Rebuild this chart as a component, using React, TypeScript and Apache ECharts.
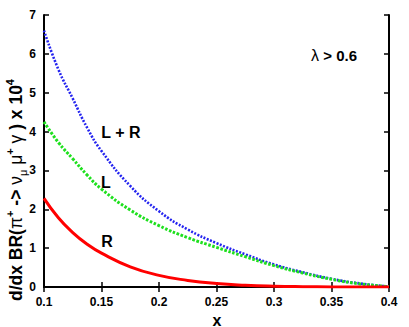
import React, { useEffect, useRef } from "react";
import * as echarts from "echarts";

const xs = [0.1, 0.1125, 0.125, 0.1375, 0.15, 0.175, 0.2, 0.225, 0.25, 0.275, 0.3, 0.325, 0.35, 0.375, 0.4];
const lrValues = [6.6, 5.6, 4.85, 4.1, 3.5, 2.6, 1.95, 1.48, 1.13, 0.84, 0.58, 0.38, 0.21, 0.09, 0.01];
const lValues = [4.25, 3.72, 3.3, 2.88, 2.52, 1.98, 1.58, 1.27, 1.02, 0.78, 0.55, 0.36, 0.2, 0.08, 0.01];
const rValues = [2.28, 1.78, 1.4, 1.1, 0.87, 0.52, 0.3, 0.17, 0.09, 0.045, 0.02, 0.008, 0.003, 0.001, 0];
const xTicks = { min: 0.1, max: 0.4, interval: 0.05 };
const yTicks = { min: 0, max: 7, interval: 1 };

const FONT = "'Liberation Sans', Arial, sans-serif";

export default function App() {
  const ref = useRef<HTMLDivElement>(null);
  useEffect(() => {
    const chart = echarts.init(ref.current!, null, { renderer: "svg" });
    const pts = (vals: number[]) => xs.map((x, i) => [x, vals[i]]);
    const axisLine = { show: true, lineStyle: { color: "#000", width: 2 } };
    const tick = { show: true, inside: true, length: 5, lineStyle: { color: "#000", width: 1.5 } };
    const label = { color: "#000", fontFamily: FONT, fontWeight: "bold" as const, fontSize: 12 };
    chart.setOption({
      animation: false,
      grid: { left: 44, right: 20, top: 15, bottom: 40 },
      xAxis: [
        {
          type: "value", ...xTicks, position: "bottom",
          axisLine, axisTick: tick, splitLine: { show: false },
          axisLabel: { ...label, margin: 9, formatter: (v: number) => String(+v.toFixed(2)) },
        },
        {
          type: "value", ...xTicks, position: "top",
          axisLine, axisTick: tick, splitLine: { show: false }, axisLabel: { show: false },
        },
      ],
      yAxis: [
        {
          type: "value", ...yTicks, position: "left",
          axisLine, axisTick: tick, splitLine: { show: false },
          axisLabel: { ...label, margin: 8 },
        },
        {
          type: "value", ...yTicks, position: "right",
          axisLine, axisTick: tick, splitLine: { show: false }, axisLabel: { show: false },
        },
      ],
      series: [
        {
          type: "line", name: "L + R", data: pts(lrValues), smooth: true, showSymbol: false,
          lineStyle: { color: "#2424f0", width: 2.6, type: [2, 1.5] },
        },
        {
          type: "line", name: "L", data: pts(lValues), smooth: true, showSymbol: false,
          lineStyle: { color: "#1ee01e", width: 3, type: [2.6, 1.6] },
        },
        {
          type: "line", name: "R", data: pts(rValues), smooth: true, showSymbol: false,
          lineStyle: { color: "#ff0000", width: 3 },
        },
      ],
      graphic: [
        {
          type: "text", x: 121, y: 132,
          style: { text: "L + R", font: `bold 16px ${FONT}`, fill: "#000", align: "center", verticalAlign: "middle" },
        },
        {
          type: "text", x: 106, y: 182,
          style: { text: "L", font: `bold 16px ${FONT}`, fill: "#000", align: "center", verticalAlign: "middle" },
        },
        {
          type: "text", x: 107, y: 241,
          style: { text: "R", font: `bold 16px ${FONT}`, fill: "#000", align: "center", verticalAlign: "middle" },
        },
        {
          type: "text", x: 334, y: 55,
          style: {
            text: "{g|λ} > 0.6",
            font: `bold 15px ${FONT}`, fill: "#000", align: "center", verticalAlign: "middle",
            rich: { g: { fontFamily: FONT, fontSize: 16, fontWeight: "normal" } },
          },
        },
        {
          type: "text", x: 217, y: 320,
          style: { text: "x", font: `bold 16px ${FONT}`, fill: "#000", align: "center", verticalAlign: "middle" },
        },
        {
          type: "text", x: 16, y: 190, rotation: Math.PI / 2,
          style: {
            text: "{b|d/dx BR(}{g|π}{sup|+}{b| -> }{g|ν}{sub|μ}{b| }{g|μ}{sup|+}{b| }{g|γ}{b| ) x 10}{sup|4}",
            fill: "#000", align: "center", verticalAlign: "middle",
            rich: {
              b: { fontFamily: FONT, fontWeight: "bold", fontSize: 17.5, lineHeight: 24, verticalAlign: "middle" },
              g: { fontFamily: FONT, fontWeight: "normal", fontSize: 17.5, lineHeight: 24, verticalAlign: "middle" },
              sup: { fontFamily: FONT, fontWeight: "bold", fontSize: 11, lineHeight: 24, verticalAlign: "top" },
              sub: { fontFamily: FONT, fontWeight: "normal", fontSize: 11, lineHeight: 24, verticalAlign: "bottom" },
            },
          },
        },
      ],
    });
    return () => chart.dispose();
  }, []);
  return <div ref={ref} style={{ width: 409, height: 327, position: "absolute", left: 0, top: 0 }} />;
}
